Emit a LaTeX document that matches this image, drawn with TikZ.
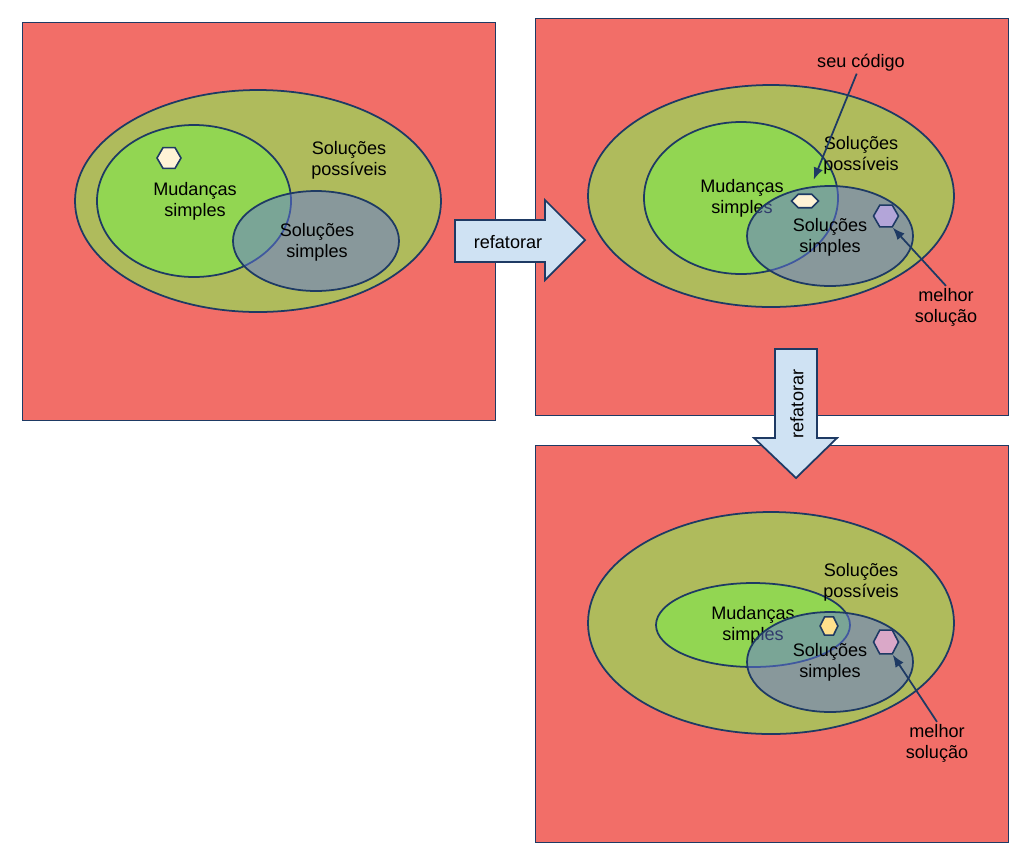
\documentclass[tikz,border=0pt]{standalone}
\usepackage{fontspec}
\setmainfont{Liberation Sans}
\usetikzlibrary{shapes.geometric,arrows.meta}

\begin{document}
\begin{tikzpicture}[x=0.02cm,y=-0.02cm,>={Latex[length=7pt,width=5.5pt]},font=\fontsize{10.3}{12}\selectfont]
\definecolor{rouge}{HTML}{F26E68}
\definecolor{olive}{HTML}{AFBB5C}
\definecolor{vert}{HTML}{92D652}
\definecolor{bleu}{HTML}{6376DA}
\definecolor{marine}{HTML}{1E3A64}
\definecolor{ciel}{HTML}{CFE2F3}
\definecolor{creme}{HTML}{FFF3D6}
\definecolor{violet}{HTML}{B3A5D9}
\definecolor{jaune}{HTML}{FFE08C}
\definecolor{rose}{HTML}{DAA8C8}
\tikzset{
  panneau/.style={fill=rouge,draw=marine,line width=.4pt},
  possibles/.style={fill=olive,draw=marine,line width=1pt},
  mudanca/.style={fill=vert,draw=marine,line width=1pt},
  simples/.style={fill=bleu,fill opacity=.5,draw=marine,draw opacity=1,line width=1pt},
  hexa/.style={regular polygon,regular polygon sides=6,draw=marine,line width=.9pt,inner sep=0pt},
  fleche/.style={fill=ciel,draw=marine,line width=1pt,line join=miter},
  pointe/.style={->,draw=marine,line width=1pt},
  texte/.style={align=center,inner sep=1pt}
}
\useasboundingbox (0,0) rectangle (1024,853);

\filldraw[panneau] (22,22) rectangle (495,420); %premier panneau
\filldraw[panneau] (535,18) rectangle (1008,415); %deuxieme panneau
\filldraw[panneau] (535,445) rectangle (1008,842); %troisieme panneau

%premier panneau
\draw[possibles] (258,201) ellipse [x radius=183, y radius=111];
\draw[mudanca] (194,201) ellipse [x radius=97, y radius=76];
\node[hexa,fill=creme,minimum size=0.48cm] (code1) at (169,158) {};
\node[texte] (mud1) at (195,201) {Mudanças\\simples};
\node[texte] (poss1) at (349,160) {Soluções\\possíveis};
\draw[simples] (316,241) ellipse [x radius=83, y radius=50];
\node[texte] (sol1) at (317,242) {Soluções\\simples};

%deuxieme panneau
\draw[possibles] (771,196) ellipse [x radius=183, y radius=111];
\draw[mudanca] (741,198) ellipse [x radius=97, y radius=76];
\node[texte] (mud2) at (742,198) {Mudanças\\simples};
\node[texte] (poss2) at (861,155) {Soluções\\possíveis};
\draw[simples] (830,236) ellipse [x radius=83, y radius=50];
\node[hexa,fill=creme,minimum size=0.54cm,yscale=.58,transform shape] (code2) at (805,201) {};
\node[hexa,fill=violet,minimum size=0.5cm] (best2) at (886,216) {};
\node[texte] (sol2) at (830,237) {Soluções\\simples};
\node[texte] (seu) at (861,63) {seu código};
\node[texte] (melhor2) at (946,307) {melhor\\solução};
\draw[pointe,shorten >=0.3cm] (seu) -- (code2);
\draw[pointe] (melhor2.north) -- (best2.-60);

%troisieme panneau
\draw[possibles] (771,623) ellipse [x radius=183, y radius=111];
\draw[mudanca] (753,625) ellipse [x radius=97, y radius=42];
\node[texte] (mud3) at (753,625) {Mudanças\\simples};
\node[texte] (poss3) at (861,582) {Soluções\\possíveis};
\draw[simples] (830,662) ellipse [x radius=83, y radius=50];
\node[hexa,fill=jaune,minimum size=0.42cm,xscale=.85,transform shape] (code3) at (829,626) {};
\node[hexa,fill=rose,minimum size=0.5cm,yscale=1.1,transform shape] (best3) at (886,642) {};
\node[texte] (sol3) at (830,662) {Soluções\\simples};
\node[texte] (melhor3) at (937,743) {melhor\\solução};
\draw[pointe] (melhor3.north) -- (best3.-60);

%les fleches refatorar
\draw[fleche] (455,220) -- (545,220) -- (545,200) -- (585,240) -- (545,280) -- (545,262) -- (455,262) -- cycle;
\node[texte] (ref1) at (508,242) {refatorar};
\draw[fleche] (775,349) -- (817,349) -- (817,438) -- (837,438) -- (796,478) -- (754,438) -- (775,438) -- cycle;
\node[texte,rotate=90] (ref2) at (797,404) {refatorar};

\end{tikzpicture}
\end{document}
